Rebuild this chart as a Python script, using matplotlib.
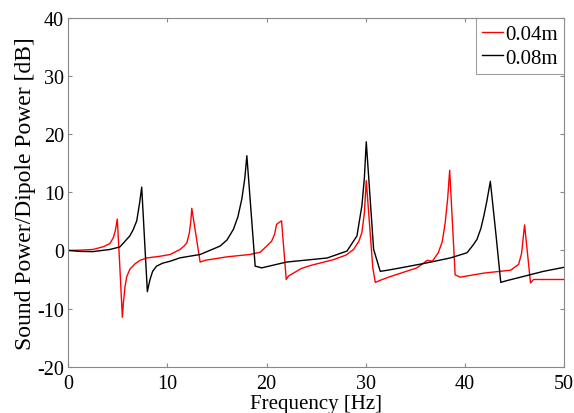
import matplotlib
matplotlib.use('Agg')
import matplotlib.pyplot as plt

# values
freq_004 = [0, 1.2, 2.5, 3.53, 4.2, 4.54, 4.74, 4.94, 5.2, 5.45, 5.55, 5.72, 5.89, 6.22, 6.73,
            7.24, 7.9, 9.25, 10.26, 11.27, 11.7, 11.95, 12.2, 12.35, 12.45, 13.29, 13.8, 16.0,
            18.3, 19.35, 20.0, 20.5, 20.8, 21.0, 21.5, 21.97, 22.2, 22.7, 23.5, 24.4, 26.7, 28.0,
            28.76, 29.3, 29.6, 29.85, 30.04, 30.7, 30.95, 31.5, 32.46, 35.15, 36.2, 36.7, 37.3,
            37.7, 38.0, 38.25, 38.45, 39.0, 39.5, 41.9, 44.6, 45.4, 45.7, 46.0, 46.6, 46.9, 50]
db_004 = [0, 0.05, 0.17, 0.64, 1.2, 2.2, 3.4, 5.4, -3.0, -11.5, -9.1, -6.2, -4.5, -3.2, -2.3,
          -1.7, -1.3, -1.0, -0.7, 0.17, 0.8, 1.3, 3.0, 5.0, 7.25, -2.0, -1.7, -1.1,
          -0.7, -0.3, 0.75, 1.6, 2.8, 4.5, 5.1, -5.0, -4.4, -3.9, -3.1, -2.6, -1.6, -0.8,
          0.17, 1.6, 3.1, 6.5, 12.0, -3.0, -5.5, -5.1, -4.5, -3.0, -1.7, -1.86, -0.4,
          1.5, 4.8, 9.0, 13.8, -4.2, -4.6, -3.9, -3.4, -2.4, -0.5, 4.4, -5.6, -5.0, -5.0]

freq_008 = [0, 1.18, 2.5, 4.2, 5.2, 6.2, 6.55, 6.9, 7.2, 7.4, 7.97, 8.1, 8.24, 8.5, 8.9, 9.5,
            10.26, 11.27, 13.29, 15.3, 16.0, 16.65, 17.1, 17.5, 17.8, 18.0, 18.84, 19.5, 22.0,
            26.1, 28.1, 29.1, 29.6, 29.85, 30.04, 30.78, 31.45, 32.2, 33.5, 35.8, 38.5, 40.2,
            40.8, 41.2, 41.6, 41.9, 42.2, 42.55, 43.1, 43.6, 44.2, 45.25, 47.9, 50]
db_008 = [0, -0.17, -0.2, 0.17, 0.6, 2.5, 3.6, 5.1, 8.3, 10.9, -7.1, -6.0, -5.0, -3.6, -2.7, -2.2,
          -1.86, -1.27, -0.7, 0.75, 1.8, 3.65, 5.8, 8.9, 12.5, 16.3, -2.7, -3.0, -2.0,
          -1.3, -0.1, 2.5, 7.7, 12.5, 18.7, 0.2, -3.6, -3.4, -3.0, -2.26, -1.3, -0.4,
          0.9, 1.9, 3.8, 6.0, 8.5, 11.9, 3.0, -5.5, -5.2, -4.75, -3.6, -2.9]

labels = ['0.04m', '0.08m']

plt.rcParams['font.family'] = ['Liberation Serif', 'DejaVu Serif']
plt.rcParams['axes.unicode_minus'] = False

fig = plt.figure(figsize=(5.74, 4.14), dpi=100)
ax = fig.add_axes([0.119, 0.112, 0.864, 0.842])

ax.plot(freq_004, db_004, color='red', lw=1.0, label=labels[0])
ax.plot(freq_008, db_008, color='black', lw=1.0, label=labels[1])

ax.set_xlim(0, 50)
ax.set_ylim(-20, 40)
ax.set_xticks([0, 10, 20, 30, 40, 50])
ax.set_yticks([-20, -10, 0, 10, 20, 30, 40])
ax.tick_params(direction='in', top=True, right=True, labelsize=14.5, length=3, color='#888888')
ax.tick_params(axis='x', pad=5)
ax.tick_params(axis='y', pad=3)
for s in ax.spines.values():
    s.set_color('#888888')
ax.set_xlabel('Frequency [Hz]', fontsize=15, labelpad=1)
ax.set_ylabel('Sound Power/Dipole Power [dB]', fontsize=17, labelpad=1)

leg = ax.legend(loc='upper right', fontsize=15, handlelength=1.0, handletextpad=0.1,
                borderpad=0.3, labelspacing=0.2, borderaxespad=0, fancybox=False)
leg.get_frame().set_edgecolor('#888888')
leg.get_frame().set_linewidth(0.8)

fig.savefig('out.png', dpi=100)
